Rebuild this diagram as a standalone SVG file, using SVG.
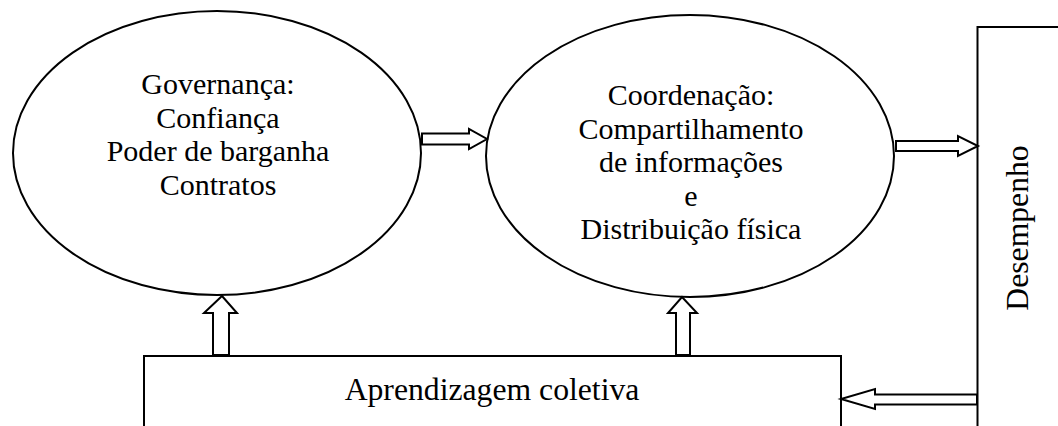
<svg xmlns="http://www.w3.org/2000/svg" width="1058" height="426" viewBox="0 0 1058 426">
<style>
.shape{fill:#fff;stroke:#000;stroke-width:2}
.arrow{fill:#fff;stroke:#000;stroke-width:2;stroke-linejoin:miter}
.t{font-family:"Liberation Serif","Times New Roman",serif;font-size:30px;fill:#000;text-anchor:middle}
.big{font-size:31.7px}
</style>
<rect width="1058" height="426" fill="#fff"/>
<g id="desempenho">
<rect class="shape" x="977.5" y="27" width="100" height="420"/>
<text class="t big" transform="translate(1028,228) rotate(-90)">Desempenho</text>
</g>
<g id="aprendizagem">
<rect class="shape" x="144" y="356" width="697" height="90"/>
<text class="t big" x="492" y="400">Aprendizagem coletiva</text>
</g>
<g id="governanca">
<ellipse class="shape" cx="217" cy="153" rx="204" ry="142"/>
<text class="t" x="218" y="94">Governança:</text>
<text class="t" x="218" y="127.5">Confiança</text>
<text class="t" x="218" y="161">Poder de barganha</text>
<text class="t" x="218" y="194.5">Contratos</text>
</g>
<g id="coordenacao">
<ellipse class="shape" cx="690" cy="156" rx="204" ry="141"/>
<text class="t" x="691" y="105">Coordenação:</text>
<text class="t" x="691" y="138.5">Compartilhamento</text>
<text class="t" x="691" y="172">de informações</text>
<text class="t" x="691" y="205.5">e</text>
<text class="t" x="691" y="239">Distribuição física</text>
</g>
<g id="connectors">
<polygon class="arrow" points="422,133.5 469,133.5 469,129 487,139 469,149 469,144.5 422,144.5"/>
<polygon class="arrow" points="896,141 958,141 958,136 978,146 958,156 958,151 896,151"/>
<polygon class="arrow" points="977,394.5 875,394.5 875,389 841,399 875,409 875,404.5 977,404.5"/>
<polygon class="arrow" points="213,355 213,313 204,313 222,296 237,313 229,313 229,355"/>
<polygon class="arrow" points="676,355 676,313 668,313 682,297 697,313 690,313 690,355"/>
</g>
</svg>
